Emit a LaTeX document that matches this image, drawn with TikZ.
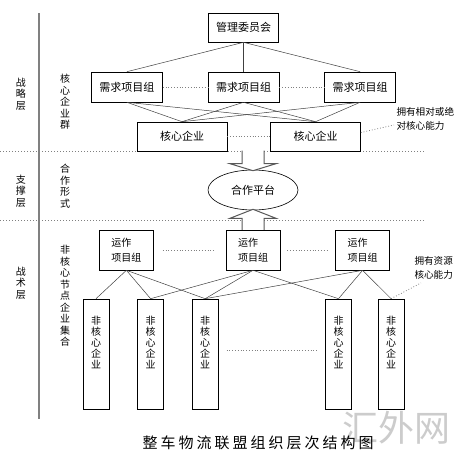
\documentclass[tikz,border=0pt]{standalone}
\usepackage{fontspec}
\setmainfont{Noto Sans CJK SC}
\usetikzlibrary{positioning,calc,shapes.geometric}

\begin{document}
\begin{tikzpicture}[
    x=1pt, y=-1pt,
    font=\fontsize{11}{13}\selectfont,
    box/.style={
        draw,
        line width=0.6pt,
        inner sep=0pt,
        align=center
    },
    reqbox/.style={box, minimum width=71pt, minimum height=30pt},
    corebox/.style={box, minimum width=90pt, minimum height=29pt},
    opbox/.style={box, minimum width=54pt, minimum height=40pt, align=left,
        font=\fontsize{10}{15}\selectfont},
    ncbox/.style={box, minimum width=26pt, minimum height=110pt,
        font=\fontsize{10}{11}\selectfont},
    vlab/.style={align=center, font=\fontsize{10}{11.5}\selectfont},
    note/.style={align=left, anchor=west, font=\fontsize{9.6}{14}\selectfont},
    link/.style={draw=black!75, line width=0.5pt},
    dots/.style={draw=gray, dotted, line width=0.8pt},
    layer/.style={draw=gray, dotted, line width=1pt},
    hollow/.style={draw=gray!70!black, line width=1pt, fill=white}
]
\useasboundingbox (0,0) rectangle (466,461);

% ============================================================
% LEWA SKALA WARSTW
% ============================================================
\draw[gray, line width=1.5pt] (39,13) -- (39,419);
\draw[layer] (0,151) -- (425,151);
\draw[layer] (0,220) -- (425,220);

\node[vlab] (strat) at (21,94) {战\\略\\层};
\node[vlab] (supp) at (21,191) {支\\撑\\层};
\node[vlab] (tact) at (21,283) {战\\术\\层};

\node[vlab] (coregrp) at (65,102) {核\\心\\企\\业\\群};
\node[vlab] (coop) at (65,186) {合\\作\\形\\式};
\node[vlab] (noncore) at (65,296) {非\\核\\心\\节\\点\\企\\业\\集\\合};

% ============================================================
% WARSTWA STRATEGICZNA
% ============================================================
\node[box, minimum width=70pt, minimum height=29pt] (committee) at (243.5,27.5) {管理委员会};

\node[reqbox] (req2) at (243.5,87) {需求项目组};
\node[reqbox, left=45pt of req2] (req1) {需求项目组};
\node[reqbox, right=45pt of req2] (req3) {需求项目组};

\node[corebox] (core1) at (182,136.5) {核心企业};
\node[corebox, right=43pt of core1] (core2) {核心企业};

\foreach \r in {req1,req2,req3}
    \draw[link] (committee.south) -- (\r.north);
\foreach \r in {req1,req2,req3}
    \foreach \c in {core1,core2}
        \draw[link] (\r.south) -- (\c.north);

\draw[dots] (req1) -- (req2);
\draw[dots] (req2) -- (req3);
\draw[dots] (core1) -- (core2);

\node[note] (note1) at (393,119) {拥有相对或绝\\对核心能力};
\draw[dots] ($(core2.east)+(0,-4)$) -- ($(note1.west)+(1,6)$);

% ============================================================
% WARSTWA WSPIERAJACA
% ============================================================
\node[draw, ellipse, line width=0.6pt, minimum width=90pt, minimum height=40pt] (plat) at (253,190) {合作平台};

% grube strzalki do platformy
\draw[hollow] ($(plat.north)+(-11,-19)$) -- ++(0,13) -- ++(-12,0)
    -- ($(plat.north)+(0,1)$) -- ++(23,-7) -- ++(-12,0) -- ++(0,-13);
\draw[hollow] ($(plat.south)+(-11,20)$) -- ++(0,-12) -- ++(-12,0)
    -- ($(plat.south)+(0,-1)$) -- ++(23,9) -- ++(-12,0) -- ++(0,12);

% ============================================================
% WARSTWA TAKTYCZNA
% ============================================================
\node[opbox] (op2) at (253,250) {运作\\项目组};
\node[opbox, left=72pt of op2] (op1) {运作\\项目组};
\node[opbox, right=55pt of op2] (op3) {运作\\项目组};

\draw[dots, shorten <=9pt, shorten >=11pt] (op1) -- (op2);
\draw[dots, shorten <=7pt, shorten >=8pt] (op2) -- (op3);

\node[ncbox] (nc1) at (96,354) {非\\核\\心\\企\\业\\[13pt]\mbox{}};
\node[ncbox, right=28pt of nc1] (nc2) {非\\核\\心\\企\\业\\[13pt]\mbox{}};
\node[ncbox, right=28pt of nc2] (nc3) {非\\核\\心\\企\\业\\[13pt]\mbox{}};
\node[ncbox] (nc4) at (338.5,354) {非\\核\\心\\企\\业\\[13pt]\mbox{}};
\node[ncbox, right=26pt of nc4] (nc5) {非\\核\\心\\企\\业\\[13pt]\mbox{}};

\foreach \n in {nc1,nc2,nc3}
    \draw[link] (op1.south) -- (\n.north);
\foreach \n in {nc2,nc3,nc4}
    \draw[link] (op2.south) -- (\n.north);
\foreach \n in {nc3,nc4,nc5}
    \draw[link] (op3.south) -- (\n.north);

\draw[dots, shorten <=8pt, shorten >=9pt] ($(nc3.east)+(0,-4)$) -- ($(nc4.west)+(0,-4)$);

\node[note] (note2) at (411,268) {拥有资源\\核心能力};
\draw[dots] (nc5.north) -- ($(note2.south west)+(10,0)$);

% ============================================================
% PODPIS
% ============================================================
\node[text=gray!40, font=\fontsize{36}{40}\selectfont] (mark) at (396,428) {汇外网};
\node[font={\fontsize{15}{18}\selectfont\addfontfeature{LetterSpace=20}}] (title) at (258,443) {整车物流联盟组织层次结构图};

\end{tikzpicture}
\end{document}
